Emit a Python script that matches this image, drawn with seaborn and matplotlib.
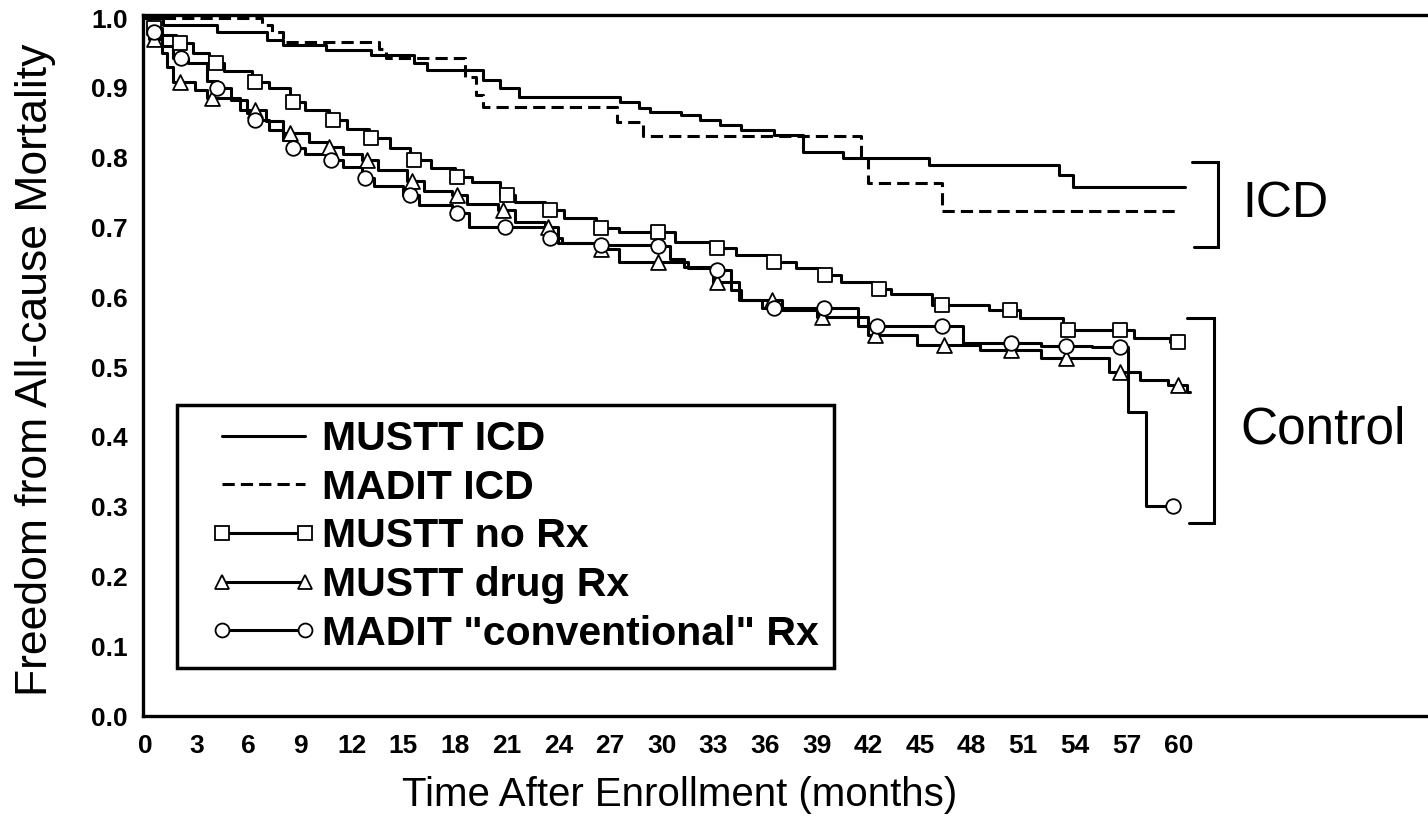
import numpy as np
import pandas as pd
import matplotlib
matplotlib.use("Agg")
import matplotlib.pyplot as plt
import seaborn as sns
from matplotlib.lines import Line2D
from matplotlib.legend_handler import HandlerLine2D

# ---------------- data ----------------
x_ticks = list(range(0, 61, 3))
y_ticks = [0.0, 0.1, 0.2, 0.3, 0.4, 0.5, 0.6, 0.7, 0.8, 0.9, 1.0]

series_labels = ["MUSTT ICD", "MADIT ICD", "MUSTT no Rx", "MUSTT drug Rx",
                 'MADIT "conventional" Rx']

mustt_icd_t = [0, 1.05, 4.2, 7.1, 8.0, 10.5, 13.1, 15.6, 16.4, 19.65, 20.6, 21.7,
               27.6, 28.7, 29.3, 31.1, 32.2, 33.4, 34.6, 36.5, 38.2, 40.5, 45.5,
               53.1, 53.9, 60.4]
mustt_icd_v = [1.0, 0.99, 0.98, 0.968, 0.961, 0.954, 0.947, 0.935, 0.925, 0.911, 0.90,
               0.887, 0.88, 0.871, 0.866, 0.861, 0.854, 0.847, 0.84, 0.832, 0.808,
               0.80, 0.79, 0.775, 0.758, 0.758]

madit_icd_t = [0, 6.8, 7.4, 8.0, 13.6, 14.0, 18.6, 19.2, 19.6, 27.4, 28.9, 41.6,
               42.0, 46.3, 60.0]
madit_icd_v = [1.0, 0.99, 0.98, 0.966, 0.955, 0.943, 0.915, 0.89, 0.873, 0.851,
               0.831, 0.80, 0.763, 0.724, 0.724]

mustt_norx_t = [0, 0.3, 1.0, 1.8, 2.8, 3.7, 4.6, 6.2, 7.2, 8.4, 9.3, 10.7, 11.7,
                13.0, 14.2, 15.4, 16.6, 18.0, 19.0, 20.6, 21.5, 23.2, 24.3, 26.2,
                27.5, 30.8, 32.8, 34.3, 36.2, 37.8, 39.2, 40.4, 42.3, 43.3, 45.7,
                49.0, 50.8, 53.3, 57.4, 59.5, 60.3]
mustt_norx_v = [1.0, 0.985, 0.975, 0.964, 0.95, 0.935, 0.924, 0.908, 0.90, 0.88,
                0.868, 0.854, 0.841, 0.828, 0.814, 0.797, 0.785, 0.772, 0.765, 0.746,
                0.737, 0.725, 0.713, 0.699, 0.694, 0.679, 0.670, 0.66, 0.650, 0.642,
                0.632, 0.622, 0.612, 0.605, 0.589, 0.582, 0.57, 0.553, 0.541, 0.536,
                0.536]
mustt_norx_mt = [0.5, 2.0, 4.1, 6.4, 8.6, 10.9, 13.1, 15.6, 18.1, 21.0, 23.5, 26.5,
                 29.8, 33.2, 36.5, 39.5, 42.6, 46.3, 50.2, 53.6, 56.6, 60.0]

mustt_drug_t = [0, 0.2, 1.0, 1.3, 1.6, 2.9, 3.6, 5.5, 7.0, 8.0, 9.5, 10.6, 11.5,
                12.6, 13.5, 15.2, 16.2, 17.8, 18.7, 20.5, 21.5, 23.2, 24.0, 26.2,
                27.5, 31.5, 33.0, 34.5, 37.0, 39.0, 42.0, 44.8, 48.5, 52.0, 56.0,
                57.8, 59.4, 60.5, 60.7]
mustt_drug_v = [1.0, 0.97, 0.95, 0.93, 0.908, 0.897, 0.885, 0.868, 0.852, 0.835,
                0.822, 0.815, 0.805, 0.797, 0.782, 0.767, 0.752, 0.746, 0.733, 0.725,
                0.708, 0.70, 0.678, 0.669, 0.65, 0.642, 0.622, 0.596, 0.582, 0.572,
                0.546, 0.531, 0.524, 0.513, 0.493, 0.481, 0.474, 0.464, 0.464]
mustt_drug_mt = [0.5, 2.0, 3.9, 6.4, 8.4, 10.7, 12.9, 15.5, 18.1, 20.8, 23.4, 26.5,
                 29.8, 33.2, 36.4, 39.3, 42.4, 46.4, 50.3, 53.5, 56.6, 60.0]

madit_conv_t = [0, 0.3, 1.0, 1.6, 2.5, 3.6, 4.2, 5.0, 5.9, 6.4, 7.2, 8.0, 8.6, 9.3,
                10.5, 11.5, 12.6, 13.3, 15.0, 15.9, 17.8, 18.8, 23.2, 24.2, 26.5,
                29.8, 30.5, 31.3, 33.2, 34.0, 34.6, 35.8, 41.4, 47.5, 52.0, 55.0,
                57.1, 58.1, 60.0]
madit_conv_v = [1.0, 0.98, 0.96, 0.943, 0.935, 0.91, 0.90, 0.882, 0.864, 0.854,
                0.84, 0.825, 0.814, 0.805, 0.797, 0.786, 0.771, 0.76, 0.746, 0.732,
                0.721, 0.70, 0.685, 0.678, 0.675, 0.673, 0.655, 0.643, 0.639, 0.61,
                0.596, 0.585, 0.559, 0.535, 0.530, 0.528, 0.436, 0.301, 0.301]
madit_conv_mt = [0.5, 2.1, 4.2, 6.4, 8.6, 10.8, 12.8, 15.4, 18.1, 20.9, 23.5, 26.5,
                 29.8, 33.2, 36.5, 39.4, 42.5, 46.3, 50.3, 53.5, 56.6, 59.7]

# ---------------- figure ----------------
sns.set_theme(style="white")
plt.rcParams["font.family"] = ["Liberation Sans", "DejaVu Sans"]

W, H = 1428, 819
fig = plt.figure(figsize=(W / 100, H / 100), dpi=100)
ax = fig.add_axes([143 / W, 1 - 716 / H, 1 - 143 / W, (716 - 15) / H])

LW = 2.2


def draw_curve(t, v, ls):
    df = pd.DataFrame({"t": t, "v": v})
    sns.lineplot(data=df, x="t", y="v", ax=ax, color="black", linewidth=LW,
                 linestyle=ls, drawstyle="steps-post", estimator=None, sort=False,
                 zorder=2)


def draw_markers(t, v, mt, marker, size):
    t = np.asarray(t)
    v = np.asarray(v)
    idx = np.searchsorted(t, mt, side="right") - 1
    sns.scatterplot(x=list(mt), y=list(v[idx]), ax=ax, marker=marker, s=size,
                    color="white", edgecolor="black", linewidth=1.3, zorder=3,
                    legend=False)


dash = (0, (4, 2))
draw_curve(mustt_icd_t, mustt_icd_v, "-")
draw_curve(madit_icd_t, madit_icd_v, dash)
draw_curve(mustt_norx_t, mustt_norx_v, "-")
draw_curve(mustt_drug_t, mustt_drug_v, "-")
draw_curve(madit_conv_t, madit_conv_v, "-")
draw_markers(mustt_norx_t, mustt_norx_v, mustt_norx_mt, "s", 100)
draw_markers(mustt_drug_t, mustt_drug_v, mustt_drug_mt, "^", 115)
draw_markers(madit_conv_t, madit_conv_v, madit_conv_mt, "o", 110)

# brackets (annotations)
ax.plot([60.8, 62.3, 62.3, 60.9], [0.794, 0.794, 0.672, 0.672], color="black",
        lw=2.2, solid_joinstyle="miter", clip_on=False)
ax.plot([60.5, 62.1, 62.1, 60.6], [0.570, 0.570, 0.2765, 0.2765], color="black",
        lw=2.2, solid_joinstyle="miter", clip_on=False)
ax.text(63.7, 0.733, "ICD", fontsize=36, ha="left", va="center", color="black")
ax.text(63.6, 0.41, "Control", fontsize=37, ha="left", va="center", color="black")

# axes styling
ax.set_xlim(-0.12, 74.5)
ax.set_ylim(0, 1.0043)
ax.set_xticks(x_ticks)
ax.set_xticklabels([str(x) for x in x_ticks], fontsize=19, fontweight="bold")
ax.set_yticks(y_ticks)
ax.set_yticklabels([f"{y:.1f}" for y in y_ticks], fontsize=19, fontweight="bold")
ax.tick_params(axis="both", length=0, colors="black")
ax.tick_params(axis="x", pad=13)
ax.tick_params(axis="y", pad=11)
ax.grid(False)
for side in ["left", "top", "bottom"]:
    ax.spines[side].set_color("black")
    ax.spines[side].set_linewidth(2.4)
ax.spines["right"].set_visible(False)

ax.set_xlabel("Time After Enrollment (months)", fontsize=29, color="black")
ax.set_ylabel("Freedom from All-cause Mortality", fontsize=32, color="black")
ax.xaxis.set_label_coords((680 - 143) / (W - 143), -(795 - 716) / (716 - 15))
ax.yaxis.set_label_coords(-(143 - 36) / (W - 143), (716 - 370) / (716 - 15))
ax.xaxis.label.set_va("center")
ax.yaxis.label.set_va("center")

# legend
mk = dict(markersize=10, markerfacecolor="white", markeredgecolor="black",
          markeredgewidth=1.3)
handles = [
    Line2D([], [], color="black", lw=LW, ls="-"),
    Line2D([], [], color="black", lw=LW, ls=dash),
    Line2D([], [], color="black", lw=LW, ls="-", marker="s", **mk),
    Line2D([], [], color="black", lw=LW, ls="-", marker="^", **mk),
    Line2D([], [], color="black", lw=LW, ls="-", marker="o", **mk),
]
hmap = {h: HandlerLine2D(marker_pad=0.73) for h in handles}
leg = ax.legend(handles, series_labels, loc="upper left",
                bbox_to_anchor=(177 / W, 1 - 405 / H), bbox_transform=fig.transFigure,
                frameon=True, fancybox=False, framealpha=1, edgecolor="black",
                prop={"weight": "bold", "size": 29.5}, numpoints=2,
                handler_map=hmap,
                handlelength=3.49, handletextpad=-0.32, labelspacing=0.26,
                borderpad=0.37, borderaxespad=0)
leg.get_frame().set_linewidth(2.5)
for txt in leg.get_texts():
    txt.set_color("black")

fig.savefig("out.png", dpi=100, facecolor="white")
